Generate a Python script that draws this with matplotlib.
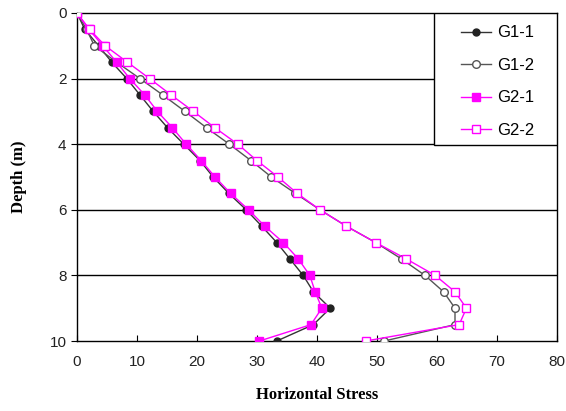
import matplotlib
matplotlib.use("Agg")
import matplotlib.pyplot as plt
from matplotlib.patches import Rectangle

depth = [0, 0.5, 1, 1.5, 2, 2.5, 3, 3.5, 4, 4.5, 5, 5.5, 6, 6.5, 7, 7.5, 8, 8.5, 9, 9.5, 10]
g1_1 = [0, 1.3, 3.6, 5.8, 8.3, 10.5, 12.7, 15.1, 17.8, 20.5, 22.7, 25.3, 28.2, 30.8, 33.3, 35.5, 37.7, 39.4, 42.2, 39.4, 33.3]
g1_2 = [0, 1.6, 2.9, 6.6, 10.5, 14.3, 18.0, 21.6, 25.4, 29.0, 32.4, 36.4, 40.5, 44.9, 49.8, 54.1, 58.0, 61.1, 63.0, 63.0, 51.2]
g2_1 = [0, 2.0, 4.3, 6.6, 8.8, 11.3, 13.4, 15.9, 18.2, 20.7, 23.0, 25.6, 28.6, 31.3, 34.4, 36.9, 38.8, 39.7, 40.8, 39.0, 30.4]
g2_2 = [0, 2.1, 4.7, 8.4, 12.1, 15.7, 19.4, 23.0, 26.8, 30.0, 33.5, 36.7, 40.5, 44.9, 49.8, 54.9, 59.7, 63.0, 64.9, 63.7, 48.1]
labels = ["G1-1", "G1-2", "G2-1", "G2-2"]
xticks = [0, 10, 20, 30, 40, 50, 60, 70, 80]
yticks = [0, 2, 4, 6, 8, 10]

fig = plt.figure(figsize=(5.66, 4.11), dpi=100)
ax = fig.add_axes([77/566, 1-341/411, (557-77)/566, (341-13)/411])

ax.plot(g1_1, depth, color="#333333", lw=1, marker="o", ms=5, mfc="#222222", mec="#222222", label=labels[0], zorder=3)
ax.plot(g1_2, depth, color="#555555", lw=1, marker="o", ms=5.5, mfc="white", mec="#555555", label=labels[1], zorder=3)
ax.plot(g2_1, depth, color="#ff00ff", lw=1, marker="s", ms=6, mfc="#ff00ff", mec="#ff00ff", label=labels[2], zorder=4)
ax.plot(g2_2, depth, color="#ff00ff", lw=1, marker="s", ms=6, mfc="white", mec="#ff00ff", label=labels[3], zorder=4)

ax.set_xlim(0, 80)
ax.set_ylim(10, 0)
ax.set_xticks(xticks)
ax.set_yticks(yticks)
for y in [2, 4, 6, 8]:
    ax.axhline(y, color="black", lw=1, zorder=1)
for s in ax.spines.values():
    s.set_color("black")
    s.set_linewidth(1)
ax.tick_params(axis="x", direction="in", length=4, labelsize=11, pad=10)
ax.tick_params(axis="y", direction="out", length=4, labelsize=11)
for t in ax.get_xticklabels() + ax.get_yticklabels():
    t.set_fontfamily("Liberation Sans")
    t.set_color("#222222")

ax.set_xlabel("Horizontal Stress", fontfamily="Liberation Serif", fontweight="bold", fontsize=12, labelpad=13)
ax.set_ylabel("Depth (m)", fontfamily="Liberation Serif", fontweight="bold", fontsize=12, labelpad=16)

# legend box
x0 = (434 - 77) / 480
y0 = 1 - (145 - 13) / 328
box = Rectangle((x0, y0), 1 - x0, 1 - y0, transform=ax.transAxes, facecolor="white",
                edgecolor="black", lw=1, zorder=5)
ax.add_patch(box)
leg = ax.legend(loc="center", bbox_to_anchor=(x0 + 0.005, y0 - 0.008, 1 - x0, 1 - y0),
                frameon=False, prop={"family": "Liberation Sans", "size": 12},
                handlelength=1.8, labelspacing=1.05, borderpad=0.2, handletextpad=0.4)
leg.set_zorder(6)

fig.savefig("out.png", dpi=100)
